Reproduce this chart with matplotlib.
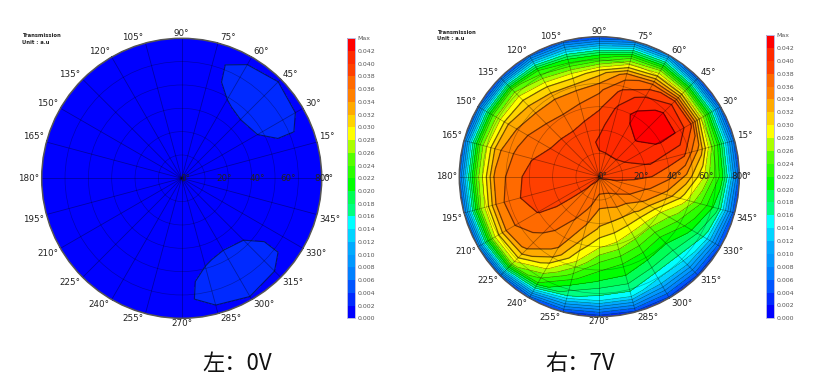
import numpy as np
import matplotlib
matplotlib.use("Agg")
import matplotlib.pyplot as plt
from matplotlib.patches import Circle

W, H = 817, 384

# polar angle (deg) on the rows, polar radius (deg) on the columns
thetas = list(range(0, 360, 15))
radii = [0, 10, 20, 30, 40, 50, 60, 70, 80]

# transmission, in units of 0.001
t_0v = [
    [1.0, 1.0, 1.0, 1.0, 1.1, 1.2, 1.3, 1.4, 1.2],
    [1.0, 1.0, 1.0, 1.1, 1.3, 1.6, 1.8, 1.8, 1.5],
    [1.0, 1.0, 1.1, 1.3, 1.7, 2.0, 2.2, 2.2, 1.8],
    [1.0, 1.0, 1.1, 1.4, 1.7, 2.1, 2.4, 2.4, 1.9],
    [1.0, 1.0, 1.1, 1.3, 1.6, 1.95, 2.2, 2.3, 1.7],
    [1.0, 1.0, 1.0, 1.1, 1.3, 1.6, 1.8, 1.8, 1.6],
    [1.0, 1.0, 1.0, 1.0, 1.1, 1.2, 1.3, 1.4, 1.3],
    [1.0, 1.0, 1.0, 1.0, 1.0, 1.0, 1.1, 1.1, 1.0],
    [1.0, 1.0, 1.0, 1.0, 1.0, 1.0, 1.0, 1.0, 1.0],
    [1.0, 1.0, 1.0, 1.0, 1.0, 1.0, 1.0, 1.0, 1.0],
    [1.0, 1.0, 1.0, 1.0, 1.0, 1.0, 1.0, 1.0, 1.0],
    [1.0, 1.0, 1.0, 1.0, 1.0, 1.0, 1.0, 1.0, 1.0],
    [1.0, 1.0, 1.0, 1.0, 1.0, 1.0, 1.0, 1.0, 1.0],
    [1.0, 1.0, 1.0, 1.0, 1.0, 1.0, 1.0, 1.0, 1.0],
    [1.0, 1.0, 1.0, 1.0, 1.0, 1.0, 1.0, 1.0, 1.0],
    [1.0, 1.0, 1.0, 1.0, 1.0, 1.0, 1.0, 1.0, 1.0],
    [1.0, 1.0, 1.0, 1.0, 1.0, 1.0, 1.1, 1.1, 1.0],
    [1.0, 1.0, 1.0, 1.0, 1.1, 1.2, 1.3, 1.4, 1.3],
    [1.0, 1.0, 1.0, 1.1, 1.3, 1.6, 1.8, 1.8, 1.6],
    [1.0, 1.0, 1.1, 1.3, 1.6, 1.95, 2.2, 2.3, 1.7],
    [1.0, 1.0, 1.1, 1.4, 1.7, 2.1, 2.4, 2.4, 1.9],
    [1.0, 1.0, 1.1, 1.3, 1.7, 2.0, 2.2, 2.2, 1.8],
    [1.0, 1.0, 1.0, 1.1, 1.3, 1.6, 1.8, 1.8, 1.5],
    [1.0, 1.0, 1.0, 1.0, 1.1, 1.2, 1.3, 1.4, 1.2],
]

t_7v = [
    [38.2, 38.5, 38.5, 38.0, 36.5, 33.5, 28.0, 21.0, 5.0],
    [38.2, 39.0, 39.5, 40.2, 39.3, 38.5, 33.0, 22.0, 5.0],
    [38.2, 39.2, 40.4, 41.5, 42.2, 42.0, 38.6, 24.0, 5.0],
    [38.2, 39.5, 40.8, 42.1, 43.5, 42.5, 39.5, 25.0, 4.0],
    [38.2, 39.7, 40.6, 41.5, 42.5, 41.0, 37.0, 26.0, 8.0],
    [38.2, 39.8, 40.3, 40.6, 40.4, 38.5, 35.0, 24.0, 7.0],
    [38.2, 39.8, 40.2, 39.6, 37.6, 35.5, 31.0, 19.5, 4.0],
    [38.2, 39.2, 39.7, 38.5, 36.7, 34.5, 29.0, 19.5, 5.0],
    [38.2, 38.7, 38.8, 38.0, 36.2, 34.5, 29.7, 22.0, 5.0],
    [38.2, 38.5, 38.6, 38.1, 36.6, 34.5, 31.0, 25.0, 4.0],
    [38.2, 38.5, 38.7, 38.3, 37.0, 35.6, 32.0, 24.5, 5.0],
    [38.2, 38.7, 38.9, 38.8, 37.9, 36.2, 33.5, 25.0, 6.0],
    [38.2, 38.9, 39.1, 39.2, 38.7, 37.0, 34.2, 25.0, 6.0],
    [38.2, 38.7, 38.8, 38.9, 38.6, 37.7, 35.0, 26.0, 6.0],
    [38.2, 38.6, 38.5, 38.4, 38.1, 37.0, 35.2, 27.0, 6.0],
    [38.2, 37.9, 37.5, 37.2, 36.6, 35.5, 33.7, 27.0, 5.0],
    [38.2, 37.6, 37.0, 35.8, 35.0, 33.5, 28.5, 22.0, 4.5],
    [38.2, 37.0, 35.5, 33.7, 31.2, 28.0, 22.5, 16.5, 4.0],
    [38.2, 36.0, 33.6, 31.7, 28.3, 23.5, 19.8, 15.0, 3.0],
    [38.2, 36.0, 33.6, 31.2, 27.5, 22.5, 19.5, 15.0, 3.5],
    [38.2, 36.2, 34.0, 31.0, 26.5, 22.0, 18.0, 12.5, 3.5],
    [38.2, 37.0, 34.5, 31.5, 26.5, 21.5, 17.8, 13.0, 3.5],
    [38.2, 37.5, 36.0, 33.6, 28.3, 24.5, 20.5, 15.2, 4.0],
    [38.2, 37.9, 37.0, 35.7, 33.3, 29.0, 24.0, 18.5, 4.5],
]

levels = [i * 0.002 for i in range(23)]
level_labels = ["%.3f" % v for v in levels[:-1]] + ["Max"]
band_colors = ["#0000ff", "#002aff", "#0055ff", "#0080ff", "#0098ff", "#00aaff",
               "#00d4ff", "#00ffff", "#00ff80", "#00ff55", "#00ff00", "#2aff00",
               "#55ff00", "#aaff00", "#ffff00", "#ffd400", "#ffaa00", "#ff8000",
               "#ff6a00", "#ff4000", "#ff2a00", "#ff0000"]

angle_ticks = list(range(0, 360, 15))
ring_ticks = [13.33, 26.67, 40, 53.33, 66.67, 80]
ring_label_x = [2, 24, 43, 61, 80]
ring_labels = ["0°", "20°", "40°", "60°", "80°"]


def draw_panel(fig, values, cx, cy, bar_x, bar_top, head_x, head_y, caption, cap_x):
    R = 140.0
    ax = fig.add_axes([(cx - R) / W, 1 - (cy + R) / H, 2 * R / W, 2 * R / H])
    ax.set_xlim(-80, 80)
    ax.set_ylim(-80, 80)
    ax.axis("off")

    # close the grid by repeating the first angle
    th = np.radians(np.array(thetas + [360.0]))
    rr = np.array(radii, dtype=float)
    z = np.array(values) * 0.001
    z = np.vstack([z, z[0]])
    x = np.outer(np.cos(th), rr)
    y = np.outer(np.sin(th), rr)

    ax.add_patch(Circle((0, 0), 80, facecolor="#0000ff", edgecolor="none", zorder=0))
    cf = ax.contourf(x, y, z, levels=levels, colors=band_colors, zorder=1)
    # inner contours read heavier than the crowded outer ones
    widths = [0.4 if v < 0.0295 else 0.9 for v in levels[1:-1]]
    widths[0] = 0.8
    ax.contour(x, y, z, levels=levels[1:-1], colors="black", linewidths=widths, alpha=0.55, zorder=2)

    # spokes and rings
    for a in angle_ticks:
        ca, sa = np.cos(np.radians(a)), np.sin(np.radians(a))
        ax.plot([0, 80 * ca], [0, 80 * sa], color="black", lw=0.6, alpha=0.35, zorder=3)
    for r in ring_ticks:
        ax.add_patch(Circle((0, 0), r, fill=False, edgecolor="black", lw=0.5, alpha=0.3, zorder=3))
    ax.add_patch(Circle((0, 0), 80, fill=False, edgecolor="#555555", lw=1.1, zorder=4, clip_on=False))

    for a in angle_ticks:
        ca, sa = np.cos(np.radians(a)), np.sin(np.radians(a))
        if a == 0:
            ax.text(81, 0, "0°", ha="left", va="center", fontsize=6.3, color="#222222", zorder=5)
            continue
        ha = "center" if abs(ca) < 0.01 else ("left" if ca > 0 else "right")
        va = "center" if abs(sa) < 0.01 else ("bottom" if sa > 0 else "top")
        ax.annotate("%d°" % a, (80 * ca, 80 * sa), xytext=(1.5 * np.sign(round(ca, 3)), 0.5 * np.sign(round(sa, 3))),
                    textcoords="offset points", ha=ha, va=va, fontsize=6.3, color="#222222",
                    annotation_clip=False, zorder=5)
    for lx, lab in zip(ring_label_x, ring_labels):
        ax.text(lx, 0, lab, ha="center", va="center", fontsize=6.3, color="#222222", zorder=5)

    cax = fig.add_axes([bar_x / W, 1 - 318.3 / H, 8.3 / W, (318.3 - bar_top) / H])
    cb = fig.colorbar(cf, cax=cax, ticks=levels, spacing="uniform", drawedges=False)
    cb.ax.set_yticklabels(level_labels)
    cb.ax.tick_params(length=0, pad=2.0, labelsize=4.5, labelcolor="#555555")
    cb.outline.set_edgecolor("#b8b8e0")
    cb.outline.set_linewidth(0.7)

    fig.text(head_x / W, 1 - head_y / H, "Transmission", fontsize=3.8, fontweight="bold", va="center", color="#222222")
    fig.text(head_x / W, 1 - (head_y + 7) / H, "Unit : a.u", fontsize=3.8, fontweight="bold", va="center", color="#222222")
    fig.text(cap_x / W, 1 - 363 / H, caption, fontsize=16, ha="center", va="center", color="#111111",
             family=["Noto Sans CJK SC", "DejaVu Sans"])


fig = plt.figure(figsize=(W / 100, H / 100), dpi=100)
draw_panel(fig, t_0v, 181.7, 178.3, 346.6, 38.3, 22, 35.7, "左：0V", 237)
draw_panel(fig, t_7v, 599.3, 176.7, 765.7, 35.0, 437, 32, "右：7V", 580)
fig.savefig("out.png", dpi=100)
